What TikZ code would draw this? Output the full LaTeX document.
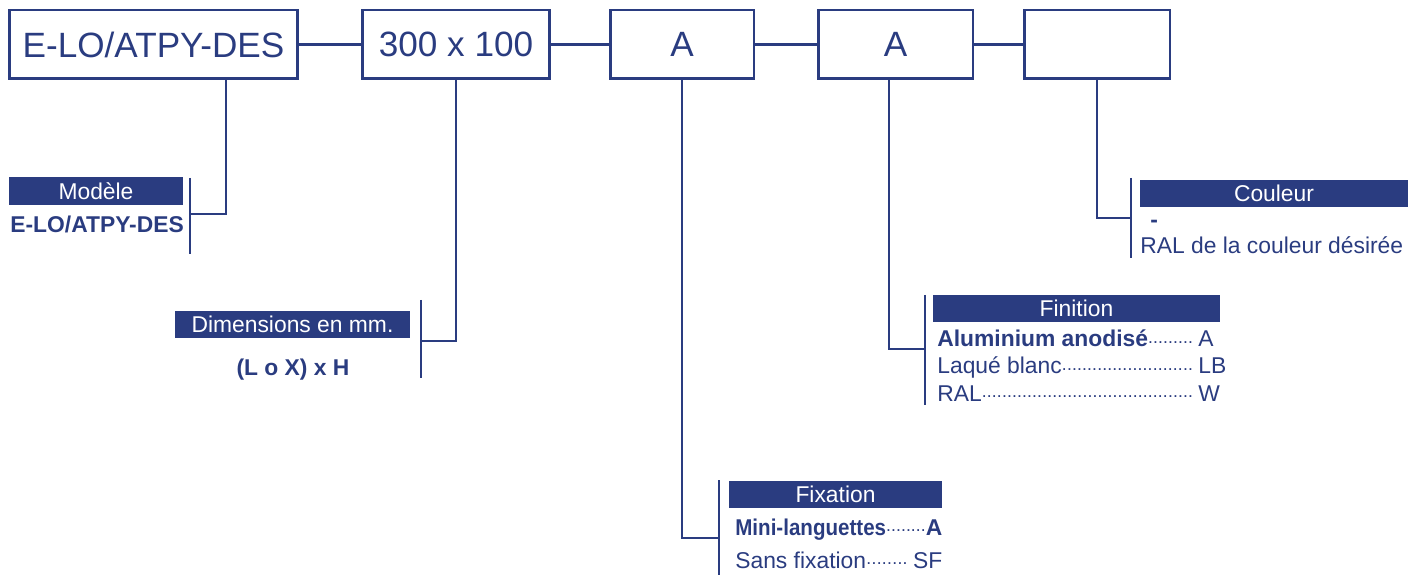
\documentclass[tikz,border=0pt]{standalone}
\usepackage{fontspec}
\setmainfont{Liberation Sans}
\definecolor{bleu}{HTML}{2A3C80}
\newcommand{\pointille}{\xleaders\hbox to 2.8pt{\hss\raisebox{2pt}{\fontsize{10}{10}\selectfont.}\hss}\hfill}
\newcommand{\ligne}[3]{\makebox[#1][l]{#2\pointille\hspace{3pt}}#3}

\begin{document}
\begin{tikzpicture}[
  x=0.02cm, y=-0.02cm,
  boite/.style={draw=bleu, line width=1.7pt, text=bleu, minimum height=1.38cm,
    inner sep=0pt, font=\fontsize{20}{24}\selectfont},
  titre/.style={fill=bleu, text=white, minimum height=0.55cm, inner sep=0pt,
    font=\fontsize{13}{15}\selectfont},
  txt/.style={text=bleu, anchor=base west, inner sep=0pt, font=\fontsize{13}{15}\selectfont},
  lien/.style={draw=bleu, line width=1.7pt},
  fil/.style={draw=bleu, line width=1.1pt},
]
\useasboundingbox (0,0) rectangle (1420,577);
%\draw[gray, help lines, step=100] (0,0) grid (1420,577);

% reference
\node[boite, minimum width=5.78cm] (b1) at (153.5,44.5) {E-LO/ATPY-DES};
\node[boite, minimum width=3.76cm] (b2) at (456,44.5) {300 x 100};
\node[boite, minimum width=2.88cm] (b3) at (682,44.5) {A};
\node[boite, minimum width=3.10cm] (b4) at (895.5,44.5) {A};
\node[boite, minimum width=2.92cm] (b5) at (1097,44.5) {};
\draw[lien] (b1) -- (b2);
\draw[lien] (b2) -- (b3);
\draw[lien] (b3) -- (b4);
\draw[lien] (b4) -- (b5);

% titres
\node[titre, minimum width=3.48cm] (tmod) at (96,191) {Modèle};
\node[titre, minimum width=4.70cm] (tdim) at (292.5,324.5) {Dimensions en mm.};
\node[titre, minimum width=4.26cm] (tfix) at (835.5,494.5) {Fixation};
\node[titre, minimum width=5.74cm] (tfin) at (1076.5,308.5) {Finition};
\node[titre, minimum width=5.36cm] (tcoul) at (1274,193.5) {Couleur};

% options
\node[txt] (mod) at (10,233) {\textbf{E-LO/ATPY-DES}};
\node[txt, anchor=base] (dim) at (293,376) {\textbf{(L o X) x H}};
\node[txt] (fix1) at (735,535) {\makebox[4.14cm]{\textbf{\scalebox{0.9}[1]{Mini-languettes}}\pointille\textbf{A}}};
\node[txt] (fix2) at (735,568) {\makebox[4.14cm]{Sans fixation\pointille\hspace{3pt}SF}};
\node[txt] (fin1) at (937,347) {\ligne{5.22cm}{\textbf{Aluminium anodisé}}{A}};
\node[txt] (fin2) at (937,374) {\ligne{5.22cm}{Laqué blanc}{LB}};
\node[txt] (fin3) at (937,401) {\ligne{5.22cm}{RAL}{W}};
\node[txt] (coul1) at (1150,228) {\textbf{-}};
\node[txt] (coul2) at (1140,254) {RAL de la couleur désirée};

% accolades
\draw[fil] (190,178) -- (190,254);
\draw[fil] (421,300) -- (421,378);
\draw[fil] (719,480) -- (719,575);
\draw[fil] (925,295) -- (925,405);
\draw[fil] (1131,178) -- (1131,258);
\coordinate (j1) at (190,214);
\coordinate (j2) at (421,341);
\coordinate (j3) at (719,538);
\coordinate (j4) at (925,349);
\coordinate (j5) at (1131,218);
\draw[fil] ([xshift=1.45cm]b1.south) |- (j1);
\draw[fil] (b2.south) |- (j2);
\draw[fil] (b3.south) |- (j3);
\draw[fil] ([xshift=-0.13cm]b4.south) |- (j4);
\draw[fil] (b5.south) |- (j5);
\end{tikzpicture}
\end{document}
